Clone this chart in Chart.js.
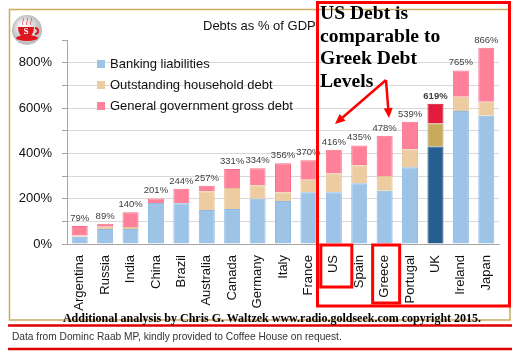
<!DOCTYPE html>
<html>
<head>
<meta charset="utf-8">
<script src="https://cdn.jsdelivr.net/npm/chart.js@4/dist/chart.umd.min.js"></script>
<style>
	body { margin: 0; background: #fff; }
	#wrap { position: relative; width: 520px; height: 358px; overflow: hidden; }
	#chart { position: absolute; left: 0; top: 0; }
	.txt { position: absolute; white-space: nowrap; }
	#title { left: 203px; top: 18px; width: 113px; overflow: hidden; font: 13px "Liberation Sans", sans-serif; color: #111; }
	#legend { left: 97px; top: 53px; font: 13px "Liberation Sans", sans-serif; color: #111; }
	#legend div { height: 21px; line-height: 21px; }
	#legend span { display: inline-block; width: 8px; height: 8px; margin-right: 5px; vertical-align: 0px; }
	#note { left: 320px; top: 2px; font: bold 19.6px "Liberation Serif", serif; line-height: 22.7px; color: #000; }
	#extra { left: 0; width: 544px; text-align: center; top: 311px; font: bold 12px "Liberation Serif", serif; color: #000; }
	#source { left: 12px; top: 331px; font: 10.2px "Liberation Sans", sans-serif; color: #333; }
</style>
</head>
<body>
<div id="wrap">
	<canvas id="chart" width="520" height="358"></canvas>
	<div class="txt" id="title">Debts as % of GDP</div>
	<div class="txt" id="legend"></div>
	<div class="txt" id="note">US Debt is<br>comparable to<br>Greek Debt<br>Levels</div>
	<div class="txt" id="extra">Additional analysis by Chris G. Waltzek www.radio.goldseek.com copyright 2015.</div>
	<div class="txt" id="source">Data from Dominc Raab MP, kindly provided to Coffee House on request.</div>
</div>
<script>
const countries	= [ 'Argentina', 'Russia', 'India', 'China', 'Brazil', 'Australia', 'Canada', 'Germany', 'Italy',
					'France', 'US', 'Spain', 'Greece', 'Portugal', 'UK', 'Ireland', 'Japan' ];
const banking	= [ 32, 66, 66, 181, 180, 150, 154, 200, 190, 228, 228, 268, 235, 339, 430, 587, 566 ];
const household	= [ 5, 10, 9, 0, 0, 83, 93, 59, 38, 55, 84, 79, 65, 79, 102, 63, 62 ];
const govDebt	= [ 42, 13, 65, 20, 64, 24, 84, 75, 128, 87, 104, 88, 178, 121, 87, 115, 238 ];
const yTicks	= [ 0, 200, 400, 600, 800 ];

const UK_IDX	= countries.indexOf( 'UK' );

function colours( base, uk ) {
	return countries.map( ( c, i ) => i === UK_IDX ? uk : base );
}

const datasets = [
	{ label: 'Banking liabilities', data: banking,
	  backgroundColor: colours( '#9dc3e6', '#255e91' ), borderColor: colours( '#8fbae2', '#1b4a78' ) },
	{ label: 'Outstanding household debt', data: household,
	  backgroundColor: colours( '#edcca1', '#c7aa5c' ), borderColor: colours( '#e6c396', '#b49448' ) },
	{ label: 'General government gross debt', data: govDebt,
	  backgroundColor: colours( '#ff8099', '#e31c3d' ), borderColor: colours( '#f7708b', '#c4142f' ) }
];
for ( const ds of datasets ) {
	ds.borderWidth		= 1;
	ds.barPercentage	= 0.63;
	ds.categoryPercentage	= 1;
}

// totals above each bar
const totalLabels = {
	id: 'totalLabels',
	afterDatasetsDraw( chart ) {
		const ctx	= chart.ctx;
		const top	= chart.getDatasetMeta( 2 ).data;
		ctx.save();
		ctx.textAlign	= 'center';
		ctx.textBaseline	= 'bottom';
		ctx.fillStyle	= '#404040';
		top.forEach( ( bar, i ) => {
			const sum	= banking[ i ] + household[ i ] + govDebt[ i ];
			ctx.font	= ( i === UK_IDX ? 'bold ' : '' ) + '9.5px "Liberation Sans", sans-serif';
			ctx.fillText( sum + '%', bar.x, bar.y - 3 );
		} );
		ctx.restore();
	}
};

function arrow( ctx, x0, y0, x1, y1 ) {
	const a	= Math.atan2( y1 - y0, x1 - x0 );
	const L	= 10, W = 4.5;
	const bx	= x1 - L * Math.cos( a ), by = y1 - L * Math.sin( a );
	ctx.beginPath();
	ctx.moveTo( x0, y0 );
	ctx.lineTo( bx, by );
	ctx.stroke();
	ctx.beginPath();
	ctx.moveTo( x1, y1 );
	ctx.lineTo( bx + W * Math.sin( a ), by - W * Math.cos( a ) );
	ctx.lineTo( bx - W * Math.sin( a ), by + W * Math.cos( a ) );
	ctx.closePath();
	ctx.fill();
}

function logo( ctx, cx, cy ) {
	const g	= ctx.createRadialGradient( cx - 4, cy - 5, 2, cx, cy, 16 );
	g.addColorStop( 0, '#ffffff' );
	g.addColorStop( 1, '#b5b5b5' );
	ctx.fillStyle	= g;
	ctx.beginPath();
	ctx.arc( cx, cy, 15, 0, Math.PI * 2 );
	ctx.fill();
	ctx.fillStyle	= '#e0161e';
	ctx.strokeStyle	= '#e0161e';
	// saucer
	ctx.beginPath();
	ctx.ellipse( cx, cy + 8, 11, 3, 0, 0, Math.PI * 2 );
	ctx.fill();
	// cup
	ctx.beginPath();
	ctx.moveTo( cx - 9, cy - 3 );
	ctx.lineTo( cx + 7, cy - 3 );
	ctx.quadraticCurveTo( cx + 7, cy + 7, cx - 1, cy + 7 );
	ctx.quadraticCurveTo( cx - 9, cy + 7, cx - 9, cy - 3 );
	ctx.fill();
	ctx.lineWidth	= 2;
	ctx.beginPath();
	ctx.arc( cx + 8, cy + 1, 3, -Math.PI / 2, Math.PI / 2 );
	ctx.stroke();
	// steam
	ctx.lineWidth	= 1;
	ctx.strokeStyle	= '#e86a6f';
	for ( const dx of [ -4, 0, 4 ] ) {
		ctx.beginPath();
		ctx.moveTo( cx + dx, cy - 5 );
		ctx.bezierCurveTo( cx + dx - 2, cy - 8, cx + dx + 2, cy - 9, cx + dx, cy - 12 );
		ctx.stroke();
	}
	ctx.fillStyle	= '#fff';
	ctx.font	= 'bold 9px "Liberation Serif", serif';
	ctx.textAlign	= 'center';
	ctx.textBaseline	= 'middle';
	ctx.fillText( 'S', cx - 1, cy + 2 );
}

const decorations = {
	id: 'decorations',
	beforeDraw( chart ) {
		const ctx	= chart.ctx;
		ctx.save();
		ctx.fillStyle	= '#fff';
		ctx.fillRect( 0, 0, chart.width, chart.height );
		ctx.strokeStyle	= '#c9ab62';
		ctx.lineWidth	= 1.5;
		ctx.strokeRect( 9.5, 9.5, 500.5, 310.5 );
		ctx.restore();
	},
	afterDraw( chart ) {
		const ctx	= chart.ctx;
		const xs	= chart.scales.x;
		const base	= chart.chartArea.bottom;
		ctx.save();
		logo( ctx, 27, 30 );

		ctx.strokeStyle	= '#ff0000';
		ctx.fillStyle	= '#ff0000';
		ctx.lineWidth	= 3;
		ctx.strokeRect( 317.5, 2.5, 192, 303.5 );

		const us	= xs.getPixelForValue( countries.indexOf( 'US' ) );
		const gr	= xs.getPixelForValue( countries.indexOf( 'Greece' ) );
		ctx.strokeRect( us - 13, base + 1, 31, 42 );
		ctx.strokeRect( gr - 12, base + 1, 27, 58 );

		ctx.lineWidth	= 2.5;
		arrow( ctx, 386, 80, 335, 124 );
		arrow( ctx, 386, 80, 389, 118 );

		ctx.strokeStyle	= '#e00000';
		ctx.lineWidth	= 2.5;
		for ( const y of [ 325.5, 349 ] ) {
			ctx.beginPath();
			ctx.moveTo( 8, y );
			ctx.lineTo( 512, y );
			ctx.stroke();
		}
		ctx.restore();
	}
};

const chart = new Chart( document.getElementById( 'chart' ), {
	type: 'bar',
	data: { labels: countries, datasets: datasets },
	plugins: [ decorations, totalLabels ],
	options: {
		responsive: false,
		animation: false,
		devicePixelRatio: 1,
		layout: { padding: { left: 0, top: 40, right: 21, bottom: 0 } },
		plugins: { legend: { display: false }, tooltip: { enabled: false } },
		scales: {
			x: {
				stacked: true,
				afterFit: s => { s.height = 114; },
				grid: { display: false },
				border: { color: '#a6a6a6' },
				ticks: {
					autoSkip: false, minRotation: 90, maxRotation: 90, padding: 3,
					color: '#111', font: { family: '"Liberation Sans", sans-serif', size: 13 }
				}
			},
			y: {
				stacked: true,
				min: 0,
				max: 900,
				afterFit: s => { s.width = 67; },
				afterBuildTicks: s => { s.ticks = [ 0, 100, 200, 300, 400, 500, 600, 700, 800, 900 ].map( v => ( { value: v } ) ); },
				grid: { color: ctx => ctx.tick && ctx.tick.value === 900 ? 'rgba(0,0,0,0)' : '#d9d9d9', tickColor: '#a6a6a6', tickLength: 5 },
				border: { color: '#a6a6a6' },
				ticks: {
					padding: 10,
					color: '#111',
					font: { family: '"Liberation Sans", sans-serif', size: 13 },
					callback: v => yTicks.includes( v ) ? v + '%' : ''
				}
			}
		}
	}
} );

// legend built from the datasets
const lg	= document.getElementById( 'legend' );
for ( const ds of chart.data.datasets ) {
	const row	= document.createElement( 'div' );
	row.innerHTML	= '<span style="background:' + ds.backgroundColor[ 0 ] + '"></span>' + ds.label;
	lg.appendChild( row );
}
</script>
</body>
</html>
